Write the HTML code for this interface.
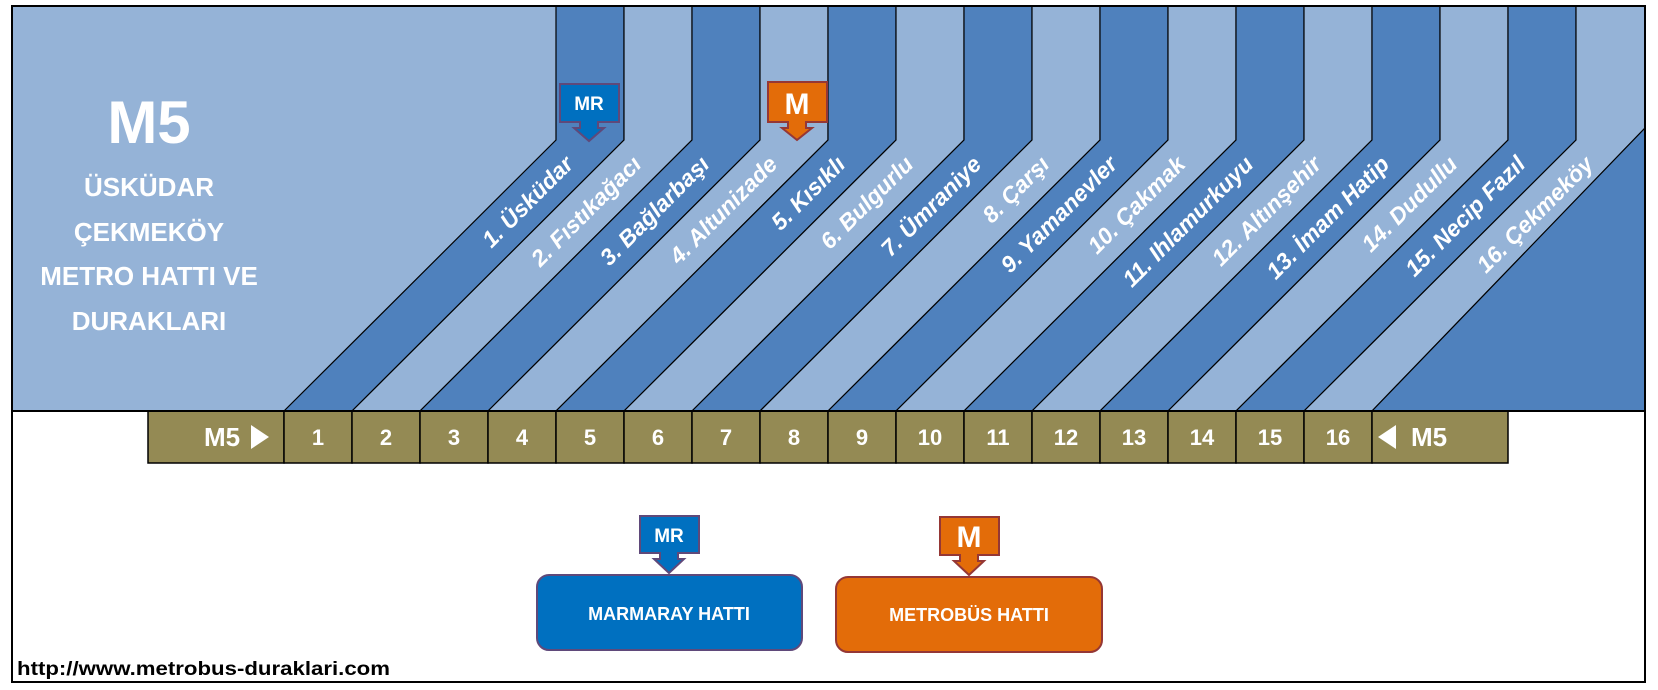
<!DOCTYPE html>
<html><head><meta charset="utf-8"><style>
html,body{margin:0;padding:0;background:#fff}
svg{display:block}
text{font-family:"Liberation Sans",sans-serif;font-weight:bold;fill:#fff}
</style></head><body>
<svg width="1658" height="690" viewBox="0 0 1658 690" xmlns="http://www.w3.org/2000/svg">
<rect x="0" y="0" width="1658" height="690" fill="#fff"/>
<rect x="12" y="6" width="1633" height="405" fill="#95b3d7"/>
<g stroke="#000" stroke-width="1.2">
<polygon points="556,6 624,6 624,140 352,411 284,411 556,140" fill="#4f81bd"/>
<polygon points="624,6 692,6 692,140 420,411 352,411 624,140" fill="#95b3d7"/>
<polygon points="692,6 760,6 760,140 488,411 420,411 692,140" fill="#4f81bd"/>
<polygon points="760,6 828,6 828,140 556,411 488,411 760,140" fill="#95b3d7"/>
<polygon points="828,6 896,6 896,140 624,411 556,411 828,140" fill="#4f81bd"/>
<polygon points="896,6 964,6 964,140 692,411 624,411 896,140" fill="#95b3d7"/>
<polygon points="964,6 1032,6 1032,140 760,411 692,411 964,140" fill="#4f81bd"/>
<polygon points="1032,6 1100,6 1100,140 828,411 760,411 1032,140" fill="#95b3d7"/>
<polygon points="1100,6 1168,6 1168,140 896,411 828,411 1100,140" fill="#4f81bd"/>
<polygon points="1168,6 1236,6 1236,140 964,411 896,411 1168,140" fill="#95b3d7"/>
<polygon points="1236,6 1304,6 1304,140 1032,411 964,411 1236,140" fill="#4f81bd"/>
<polygon points="1304,6 1372,6 1372,140 1100,411 1032,411 1304,140" fill="#95b3d7"/>
<polygon points="1372,6 1440,6 1440,140 1168,411 1100,411 1372,140" fill="#4f81bd"/>
<polygon points="1440,6 1508,6 1508,140 1236,411 1168,411 1440,140" fill="#95b3d7"/>
<polygon points="1508,6 1576,6 1576,140 1304,411 1236,411 1508,140" fill="#4f81bd"/>
<polygon points="1576,6 1645,6 1645,128 1372,411 1304,411 1576,140" fill="#95b3d7"/>
<polygon points="1645,128 1645,411 1372,411" fill="#4f81bd"/>
</g>
<g font-size="23" font-style="italic" text-anchor="end" dominant-baseline="central">
<text transform="translate(569,160) rotate(-45)">1. Üsküdar</text>
<text transform="translate(637,160) rotate(-45)">2. Fıstıkağacı</text>
<text transform="translate(705,160) rotate(-45)">3. Bağlarbaşı</text>
<text transform="translate(773,160) rotate(-45)">4. Altunizade</text>
<text transform="translate(841,160) rotate(-45)">5. Kısıklı</text>
<text transform="translate(909,160) rotate(-45)">6. Bulgurlu</text>
<text transform="translate(977,160) rotate(-45)">7. Ümraniye</text>
<text transform="translate(1045,160) rotate(-45)">8. Çarşı</text>
<text transform="translate(1113,160) rotate(-45)">9. Yamanevler</text>
<text transform="translate(1181,160) rotate(-45)">10. Çakmak</text>
<text transform="translate(1249,160) rotate(-45)">11. Ihlamurkuyu</text>
<text transform="translate(1317,160) rotate(-45)">12. Altınşehir</text>
<text transform="translate(1385,160) rotate(-45)">13. İmam Hatip</text>
<text transform="translate(1453,160) rotate(-45)">14. Dudullu</text>
<text transform="translate(1521,160) rotate(-45)">15. Necip Fazıl</text>
<text transform="translate(1589,160) rotate(-45)">16. Çekmeköy</text>
</g>
<g text-anchor="middle">
<text x="149" y="143" font-size="60">M5</text>
<text x="149" y="196" font-size="26">ÜSKÜDAR</text>
<text x="149" y="241" font-size="26">ÇEKMEKÖY</text>
<text x="149" y="285" font-size="26">METRO HATTI VE</text>
<text x="149" y="330" font-size="26">DURAKLARI</text>
</g>
<g stroke-width="2">
<path d="M560,84 H619 V122 H598 V128 H604 L589,141 L574,128 H580 V122 H560 Z" fill="#0070c0" stroke="#5f497a"/>
<path d="M768,82 H827 V122 H806 V128 H812 L797,140 L782,128 H788 V122 H768 Z" fill="#e36c09" stroke="#953735"/>
</g>
<text x="589" y="110" font-size="19" text-anchor="middle">MR</text>
<text x="797" y="114" font-size="30" text-anchor="middle">M</text>
<g stroke="#000" stroke-width="1.5" fill="#948a54">
<rect x="148" y="411" width="136" height="52"/>
<rect x="284" y="411" width="68" height="52"/><rect x="352" y="411" width="68" height="52"/>
<rect x="420" y="411" width="68" height="52"/><rect x="488" y="411" width="68" height="52"/>
<rect x="556" y="411" width="68" height="52"/><rect x="624" y="411" width="68" height="52"/>
<rect x="692" y="411" width="68" height="52"/><rect x="760" y="411" width="68" height="52"/>
<rect x="828" y="411" width="68" height="52"/><rect x="896" y="411" width="68" height="52"/>
<rect x="964" y="411" width="68" height="52"/><rect x="1032" y="411" width="68" height="52"/>
<rect x="1100" y="411" width="68" height="52"/><rect x="1168" y="411" width="68" height="52"/>
<rect x="1236" y="411" width="68" height="52"/><rect x="1304" y="411" width="68" height="52"/>
<rect x="1372" y="411" width="136" height="52"/>
</g>
<g font-size="22" text-anchor="middle">
<text x="222" y="446" font-size="26">M5</text><path d="M251,425 L269,437 L251,449 Z" fill="#fff"/>
<text x="318" y="445">1</text><text x="386" y="445">2</text><text x="454" y="445">3</text><text x="522" y="445">4</text>
<text x="590" y="445">5</text><text x="658" y="445">6</text><text x="726" y="445">7</text><text x="794" y="445">8</text>
<text x="862" y="445">9</text><text x="930" y="445">10</text><text x="998" y="445">11</text><text x="1066" y="445">12</text>
<text x="1134" y="445">13</text><text x="1202" y="445">14</text><text x="1270" y="445">15</text><text x="1338" y="445">16</text>
<path d="M1396,425 L1378,437 L1396,449 Z" fill="#fff"/><text x="1429" y="446" font-size="26">M5</text>
</g>
<g stroke-width="2">
<path d="M640,516 H699 V553 H678 V559 H684 L669,573 L654,559 H660 V553 H640 Z" fill="#0070c0" stroke="#5f497a"/>
<path d="M940,517 H999 V555 H978 V561 H984 L969,575 L954,561 H960 V555 H940 Z" fill="#e36c09" stroke="#953735"/>
<rect x="537" y="575" width="265" height="75" rx="12" fill="#0070c0" stroke="#5f497a"/>
<rect x="836" y="577" width="266" height="75" rx="12" fill="#e36c09" stroke="#953735"/>
</g>
<text x="669" y="542" font-size="19" text-anchor="middle">MR</text>
<text x="969" y="547" font-size="30" text-anchor="middle">M</text>
<text x="669" y="620" font-size="18" text-anchor="middle">MARMARAY HATTI</text>
<text x="969" y="621" font-size="18" text-anchor="middle">METROBÜS HATTI</text>
<text x="17" y="675" font-size="19" style="fill:#000" textLength="373" lengthAdjust="spacingAndGlyphs">http://www.metrobus-duraklari.com</text>
<rect x="12" y="6" width="1633" height="676" fill="none" stroke="#000" stroke-width="2"/>
<line x1="12" y1="411" x2="1645" y2="411" stroke="#000" stroke-width="2"/>
</svg>
</body></html>
